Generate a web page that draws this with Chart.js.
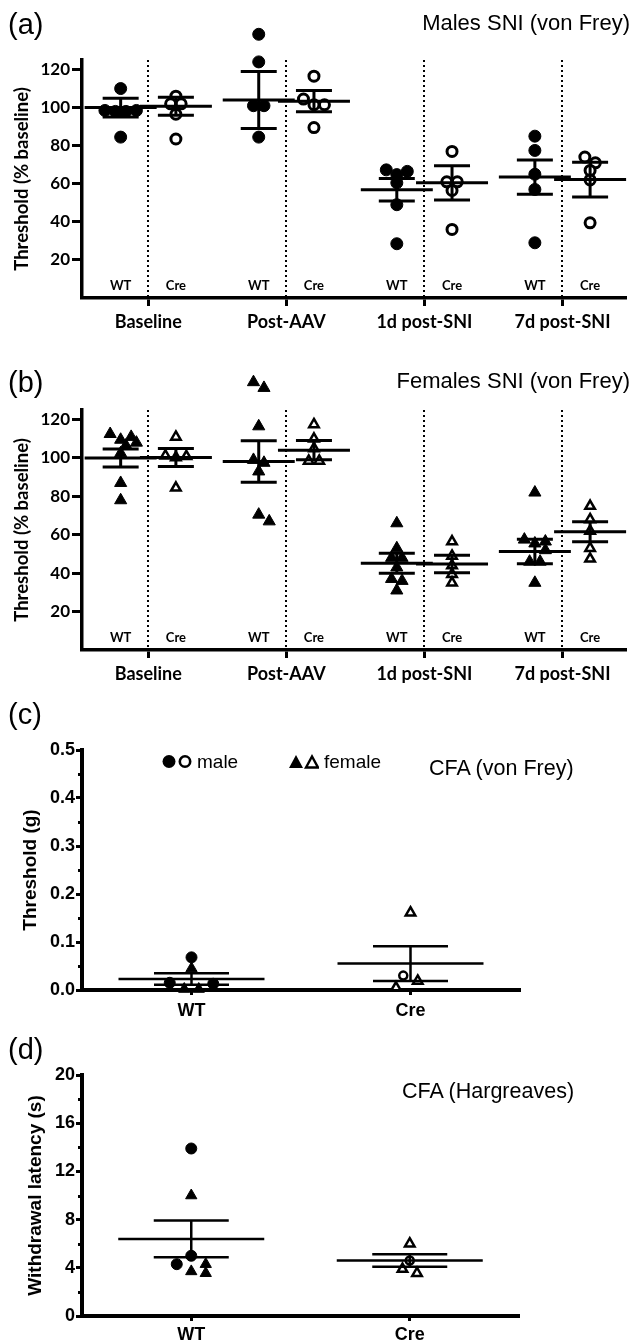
<!DOCTYPE html>
<html>
<head>
<meta charset="utf-8">
<script src="https://cdn.jsdelivr.net/npm/chart.js@4.4.0/dist/chart.umd.min.js"></script>
<style>
    html, body { margin: 0; padding: 0; background: #fff; }
    body { position: relative; width: 634px; height: 1342px; overflow: hidden; font-family: "Liberation Sans", Arial, sans-serif; color: #000; }
    canvas { position: absolute; left: 0; }
    .tag { position: absolute; left: 8px; font-size: 29px; line-height: 1; z-index: 2; }
    .head { position: absolute; font-size: 22px; line-height: 1; white-space: nowrap; z-index: 2; }
    .key { position: absolute; font-size: 19px; line-height: 1; display: flex; align-items: center; gap: 5px; z-index: 2; }
</style>
</head>
<body>
<canvas id="maleChart" width="634" height="340" style="top:0"></canvas>
<canvas id="femaleChart" width="634" height="340" style="top:350px"></canvas>
<canvas id="vonFreyChart" width="634" height="330" style="top:700px"></canvas>
<canvas id="hargreavesChart" width="634" height="302" style="top:1040px"></canvas>

<div class="tag" style="top:10px">(a)</div>
<div class="head" style="top:12px; right:4px">Males SNI (von Frey)</div>
<div class="tag" style="top:368px">(b)</div>
<div class="head" style="top:370px; right:4px">Females SNI (von Frey)</div>
<div class="tag" style="top:700px">(c)</div>
<div class="key" style="left:162px; top:752px"><svg width="30" height="15"><circle cx="7" cy="7.5" r="6.5"/><circle cx="23" cy="7.5" r="5.2" fill="#fff" stroke="#000" stroke-width="2.6"/></svg>male</div>
<div class="key" style="left:289px; top:752px"><svg width="30" height="15"><polygon points="0,14 7,1 14,14"/><polygon points="17,13.5 23,2.5 29,13.5" fill="#fff" stroke="#000" stroke-width="2.4"/></svg>female</div>
<div class="head" style="top:758px; left:429px; font-size:21.5px">CFA (von Frey)</div>
<div class="tag" style="top:1035px">(d)</div>
<div class="head" style="top:1081px; left:402px; font-size:21.5px">CFA (Hargreaves)</div>

<script>
// (a) and (b): SNI time course, threshold as % of baseline
const timepoints = ['Baseline', 'Post-AAV', '1d post-SNI', '7d post-SNI'];
const genotypes = ['WT', 'Cre'];
const sniTicks = [20, 40, 60, 80, 100, 120];

const maleWT = [
    [110, 98.5, 98.5, 98, 98, 84.5],
    [138.5, 124, 101, 101, 84.5],
    [67.3, 66.5, 64.8, 60.5, 49, 28.5],
    [85, 77.5, 65, 57, 29]
];
const maleCre = [
    [106, 102, 102, 96.5, 83.5],
    [116.5, 104.5, 101.5, 101.5, 89.5],
    [77, 61, 61, 56.5, 36],
    [74, 71, 67, 62, 39.5]
];
const maleWTMean = [100, 104, 56.8, 63.5];
const maleWTSem = [4.9, 15, 5.9, 9];
const maleCreMean = [100.7, 103.4, 60.5, 62.2];
const maleCreSem = [4.7, 5.6, 9, 9.1];

const femaleWT = [
    [112.5, 111, 109.5, 108, 106.5, 102.5, 87, 78],
    [139.5, 136.5, 116.5, 99, 97.5, 93, 70.5, 67],
    [66, 53, 48, 48, 43, 37, 36, 31],
    [82, 57.5, 56.5, 55.5, 52, 46, 46, 35]
];
const femaleCre = [
    [111, 101.2, 100.9, 100.3, 84.5],
    [117.5, 110, 105, 98.5, 98.5],
    [56.5, 49, 44, 39.5, 35],
    [75, 68, 62, 53, 47.5]
];
const femaleWTMean = [100, 98.2, 45.2, 51.3];
const femaleWTSem = [4.7, 10.8, 5.2, 6.4];
const femaleCreMean = [100.3, 104.1, 44.8, 61.6];
const femaleCreSem = [4.7, 5, 4.6, 5.2];

// (c) and (d): CFA, WT vs Cre, male and female animals
const cfaGroups = ['WT', 'Cre'];

const vonFreyMale = [[0.068, 0.013, 0.015], [0.03]];
const vonFreyFemale = [[0.045, 0.002, 0.002], [0.161, 0.019, 0.005]];
const vonFreyMean = [0.023, 0.055];
const vonFreySem = [0.012, 0.036];
const vonFreyTicks = [0, 0.1, 0.2, 0.3, 0.4, 0.5];
const vonFreyMinor = [0.05, 0.15, 0.25, 0.35, 0.45];

const hargreavesMale = [[13.9, 5.0, 4.3], [4.6]];
const hargreavesFemale = [[10.0, 4.3, 3.7, 3.55], [6.0, 3.9, 3.55]];
const hargreavesMean = [6.4, 4.6];
const hargreavesSem = [1.52, 0.52];
const hargreavesTicks = [0, 4, 8, 12, 16, 20];
const hargreavesMinor = [2, 6, 10, 14, 18];

document.addEventListener('DOMContentLoaded', function() {
    drawSniPanel('maleChart',
        sniDatasets(maleWT, maleCre, marker('circle', 6, true, 1), marker('circle', 5, false, 3)),
        sniGroups(maleWTMean, maleWTSem, maleCreMean, maleCreSem), 42);
    drawSniPanel('femaleChart',
        sniDatasets(femaleWT, femaleCre, marker('triangle', 7, true, 1), marker('triangle', 5.5, false, 2.5)),
        sniGroups(femaleWTMean, femaleWTSem, femaleCreMean, femaleCreSem), 40);
    drawCfaPanel('vonFreyChart', vonFreyMale, vonFreyFemale, vonFreyMean, vonFreySem, {
        max: 0.5, ticks: vonFreyTicks, minor: vonFreyMinor, decimals: 1,
        title: 'Threshold (g)', titlePad: 19, top: 50, right: 114, bottom: 40, labelPad: 5
    });
    drawCfaPanel('hargreavesChart', hargreavesMale, hargreavesFemale, hargreavesMean, hargreavesSem, {
        max: 20, ticks: hargreavesTicks, minor: hargreavesMinor, decimals: 0,
        title: 'Withdrawal latency (s)', titlePad: 24, top: 35, right: 115, bottom: 26, labelPad: 3
    });
});

// time point t, genotype g (0 = WT, 1 = Cre) on the SNI x axis
function groupX(t, g) {
    return t * 2.5 + g;
}

function toPoints(values, x) {
    return values.map(v => ({x: x, y: v}));
}

function marker(shape, radius, filled, border) {
    return {
        pointStyle: shape,
        pointRadius: radius,
        pointHoverRadius: radius,
        pointBackgroundColor: filled ? '#000' : '#fff',
        pointBorderColor: '#000',
        pointBorderWidth: border,
        clip: false
    };
}

function sniDatasets(wt, cre, wtStyle, creStyle) {
    const wtData = [];
    const creData = [];
    timepoints.forEach((t, i) => {
        wtData.push(...toPoints(wt[i], groupX(i, 0)));
        creData.push(...toPoints(cre[i], groupX(i, 1)));
    });
    return [
        Object.assign({label: 'WT', data: wtData}, wtStyle),
        Object.assign({label: 'Cre', data: creData}, creStyle)
    ];
}

function sniGroups(wtMean, wtSem, creMean, creSem) {
    const out = [];
    timepoints.forEach((t, i) => {
        out.push({x: groupX(i, 0), mean: wtMean[i], sem: wtSem[i]});
        out.push({x: groupX(i, 1), mean: creMean[i], sem: creSem[i]});
    });
    return out;
}

// spread the points of one column sideways, row by row, like a dot plot
function spreadColumn(els, spacing) {
    const cx = els[0].x;
    const sorted = els.slice().sort((a, b) => a.y - b.y);
    const rows = [];
    sorted.forEach(el => {
        const row = rows[rows.length - 1];
        if (row && el.y - row[0].y < spacing * 0.55) row.push(el);
        else rows.push([el]);
    });
    const placed = [];
    const gapAt = (px, py) => placed.reduce((m, p) => Math.min(m, Math.hypot(p.x - px, p.y - py)), Infinity);
    rows.forEach(row => {
        const n = row.length;
        const half = n % 2 === 0 ? spacing / 2 : 0;
        const slots = [];
        for (let k = 0; k < Math.ceil(n / 2) + 1; k++) {
            const d = half + k * spacing;
            slots.push(d);
            if (d > 0) slots.push(-d);
        }
        // lowest point of the row takes the middle slot
        row.slice().reverse().forEach(el => {
            let best = slots[0];
            let bestGap = -1;
            for (const s of slots) {
                const gap = gapAt(cx + s, el.y);
                if (gap >= spacing * 0.7) { best = s; break; }
                if (gap > bestGap) { bestGap = gap; best = s; }
            }
            el.x = cx + best;
            placed.push({x: el.x, y: el.y});
        });
    });
}

const swarmPlugin = {
    id: 'swarm',
    afterDatasetsUpdate(chart, args, opts) {
        const columns = new Map();
        chart.data.datasets.forEach((ds, di) => {
            chart.getDatasetMeta(di).data.forEach((el, i) => {
                const key = ds.data[i].x;
                if (!columns.has(key)) columns.set(key, []);
                columns.get(key).push(el);
            });
        });
        columns.forEach(els => spreadColumn(els, opts.spacing));
    },
    // points above the axis top are skipped by the library, draw them here
    afterDatasetsDraw(chart) {
        const area = chart.chartArea;
        const whole = {left: 0, top: 0, right: chart.width, bottom: chart.height};
        chart.data.datasets.forEach((ds, di) => {
            chart.getDatasetMeta(di).data.forEach(el => {
                const half = el.size(el.options) / 2;
                if (el.y < area.top - half || el.y > area.bottom + half) el.draw(chart.ctx, whole);
            });
        });
    }
};

const meanSemPlugin = {
    id: 'meanSem',
    afterDatasetsDraw(chart, args, opts) {
        const {ctx, scales: {x, y}} = chart;
        ctx.save();
        ctx.strokeStyle = '#000';
        ctx.lineWidth = opts.lineWidth;
        opts.groups.forEach(g => {
            const px = x.getPixelForValue(g.x);
            const pm = y.getPixelForValue(g.mean);
            const pt = y.getPixelForValue(g.mean + g.sem);
            const pb = y.getPixelForValue(g.mean - g.sem);
            ctx.beginPath();
            ctx.moveTo(px - opts.meanHalf, pm);
            ctx.lineTo(px + opts.meanHalf, pm);
            ctx.moveTo(px - opts.capHalf, pt);
            ctx.lineTo(px + opts.capHalf, pt);
            ctx.moveTo(px - opts.capHalf, pb);
            ctx.lineTo(px + opts.capHalf, pb);
            ctx.moveTo(px, pt);
            ctx.lineTo(px, pb);
            ctx.stroke();
        });
        ctx.restore();
    }
};

// dotted dividers between WT and Cre, and the small genotype labels
const dividerPlugin = {
    id: 'dividers',
    beforeDatasetsDraw(chart, args, opts) {
        if (!opts.labels) return;
        const {ctx, chartArea, scales: {x}} = chart;
        ctx.save();
        ctx.strokeStyle = '#000';
        ctx.lineWidth = 2;
        ctx.setLineDash([2, 3]);
        timepoints.forEach((t, i) => {
            const px = Math.round(x.getPixelForValue(groupX(i, 0.5)));
            ctx.beginPath();
            ctx.moveTo(px, chartArea.top);
            ctx.lineTo(px, chartArea.bottom);
            ctx.stroke();
        });
        ctx.setLineDash([]);
        ctx.fillStyle = '#000';
        ctx.font = 'bold 13px Lato';
        ctx.textAlign = 'center';
        ctx.textBaseline = 'middle';
        opts.labels.forEach(l => ctx.fillText(l.text, x.getPixelForValue(l.x), chartArea.bottom - 12));
        ctx.restore();
    }
};

const minorTickPlugin = {
    id: 'minorTicks',
    afterDraw(chart, args, opts) {
        if (!opts.values) return;
        const {ctx, chartArea, scales: {y}} = chart;
        ctx.save();
        ctx.strokeStyle = '#000';
        ctx.lineWidth = 3;
        ctx.beginPath();
        opts.values.forEach(v => {
            const py = Math.round(y.getPixelForValue(v)) + 0.5;
            ctx.moveTo(chartArea.left - opts.length, py);
            ctx.lineTo(chartArea.left, py);
        });
        ctx.stroke();
        ctx.restore();
    }
};

function drawSniPanel(id, datasets, groups, xHeight) {
    const ctx = document.getElementById(id).getContext('2d');
    const labels = [];
    timepoints.forEach((t, i) => genotypes.forEach((g, j) => labels.push({x: groupX(i, j), text: g})));
    new Chart(ctx, {
        type: 'scatter',
        data: {datasets: datasets},
        plugins: [swarmPlugin, dividerPlugin, meanSemPlugin],
        options: {
            responsive: false,
            animation: false,
            events: [],
            layout: {padding: {top: 60, right: 0, bottom: 0, left: 0}},
            plugins: {
                legend: {display: false},
                tooltip: {enabled: false},
                swarm: {spacing: 10.5},
                dividers: {labels: labels},
                meanSem: {groups: groups, lineWidth: 3, meanHalf: 36, capHalf: 18}
            },
            scales: {
                x: {
                    type: 'linear',
                    min: -0.7,
                    max: 9.15,
                    afterBuildTicks: s => { s.ticks = timepoints.map((t, i) => ({value: groupX(i, 0.5)})); },
                    afterFit: s => { s.height = xHeight; },
                    ticks: {
                        callback: (v, i) => timepoints[i],
                        color: '#000',
                        font: {family: 'Lato', weight: 'bold', size: 18},
                        padding: 5,
                        maxRotation: 0,
                        autoSkip: false
                    },
                    grid: {drawOnChartArea: false, tickLength: 8, tickWidth: 3, tickColor: '#000'},
                    border: {color: '#000', width: 3.5}
                },
                y: {
                    min: 0,
                    max: 125,
                    afterBuildTicks: s => { s.ticks = sniTicks.map(v => ({value: v})); },
                    afterFit: s => { s.width = 82; },
                    ticks: {color: '#000', font: {family: 'Lato', weight: 'bold', size: 17}, padding: 2},
                    grid: {drawOnChartArea: false, tickLength: 10, tickWidth: 3, tickColor: '#000'},
                    border: {color: '#000', width: 3.5},
                    title: {
                        display: true,
                        text: 'Threshold (% baseline)',
                        color: '#000',
                        font: {family: 'Lato', weight: 'bold', size: 18.5},
                        padding: {top: 11, bottom: 0}
                    }
                }
            }
        }
    });
}

function drawCfaPanel(id, male, female, mean, sem, cfg) {
    const ctx = document.getElementById(id).getContext('2d');
    const datasets = [
        Object.assign({label: 'WT male', data: toPoints(male[0], 0)}, marker('circle', 5.5, true, 1)),
        Object.assign({label: 'WT female', data: toPoints(female[0], 0)}, marker('triangle', 6.5, true, 1)),
        Object.assign({label: 'Cre male', data: toPoints(male[1], 1)}, marker('circle', 4, false, 2.5)),
        Object.assign({label: 'Cre female', data: toPoints(female[1], 1)}, marker('triangle', 5.5, false, 2.5))
    ];
    const groups = cfaGroups.map((g, i) => ({x: i, mean: mean[i], sem: sem[i]}));
    const font = {family: 'Liberation Sans', weight: 'bold', size: 18};
    new Chart(ctx, {
        type: 'scatter',
        data: {datasets: datasets},
        plugins: [swarmPlugin, meanSemPlugin, minorTickPlugin],
        options: {
            responsive: false,
            animation: false,
            events: [],
            layout: {padding: {top: cfg.top, right: cfg.right, bottom: 0, left: 0}},
            plugins: {
                legend: {display: false},
                tooltip: {enabled: false},
                swarm: {spacing: 14.5},
                meanSem: {groups: groups, lineWidth: 2.5, meanHalf: 73, capHalf: 37.5},
                minorTicks: {values: cfg.minor, length: 4}
            },
            scales: {
                x: {
                    type: 'linear',
                    min: -0.5,
                    max: 1.5,
                    afterBuildTicks: s => { s.ticks = cfaGroups.map((g, i) => ({value: i})); },
                    afterFit: s => { s.height = cfg.bottom; },
                    ticks: {callback: (v, i) => cfaGroups[i], color: '#000', font: font, padding: cfg.labelPad, maxRotation: 0},
                    grid: {drawOnChartArea: false, tickLength: 5, tickWidth: 3, tickColor: '#000'},
                    border: {color: '#000', width: 4}
                },
                y: {
                    min: 0,
                    max: cfg.max,
                    afterBuildTicks: s => { s.ticks = cfg.ticks.map(v => ({value: v})); },
                    afterFit: s => { s.width = 82; },
                    ticks: {callback: v => v.toFixed(cfg.decimals), color: '#000', font: font, padding: 1},
                    grid: {drawOnChartArea: false, tickLength: 6, tickWidth: 3, tickColor: '#000'},
                    border: {color: '#000', width: 4},
                    title: {
                        display: true,
                        text: cfg.title,
                        color: '#000',
                        font: {family: 'Liberation Sans', weight: 'bold', size: 19},
                        padding: {top: cfg.titlePad, bottom: 0}
                    }
                }
            }
        }
    });
}
</script>
</body>
</html>
